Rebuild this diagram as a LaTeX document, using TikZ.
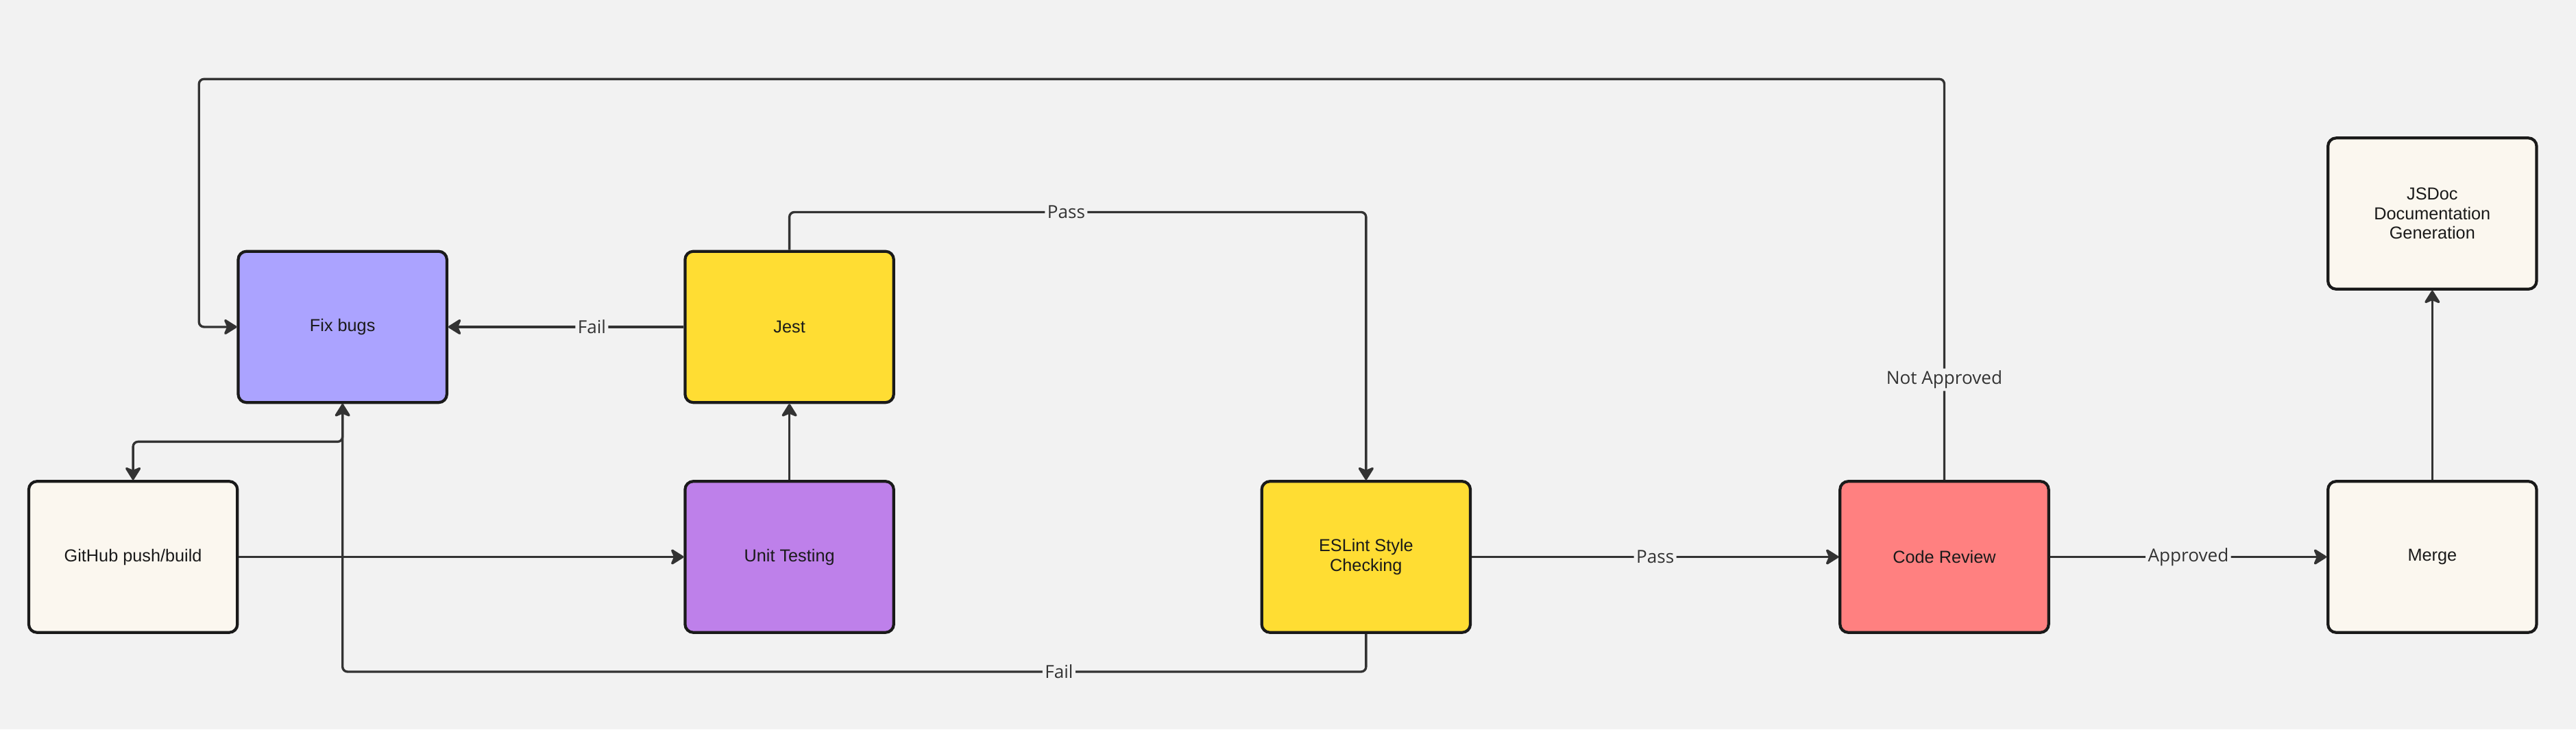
\documentclass[tikz,border=0pt]{standalone}
\usepackage{fontspec}
\setmainfont{Liberation Sans}
\newfontfamily\tagfont{Open Sans}
\usetikzlibrary{arrows.meta, positioning}
\definecolor{canvas}{HTML}{F2F2F2}
\definecolor{ink}{HTML}{1A1A1A}
\definecolor{wire}{HTML}{333333}
\definecolor{cream}{HTML}{FBF7EF}
\definecolor{lilac}{HTML}{ABA3FF}
\definecolor{violet}{HTML}{BE80EA}
\definecolor{sun}{HTML}{FFDD33}
\definecolor{salmon}{HTML}{FF8080}
\tikzset{
        x=0.05cm, y=-0.05cm, % one unit is one pixel of the small view, y grows downwards
        stage/.style={draw=ink, line width=2.5pt, rounded corners=0.25cm,
            minimum width=6.35cm, minimum height=4.6cm, align=center, text=ink,
            font=\fontsize{15}{17}\selectfont}, % every box of the pipeline
        flow/.style={-{Stealth[length=0.45cm, width=0.56cm, inset=0.12cm, round]},
            line width=2pt, draw=wire, rounded corners=0.15cm}, % the connectors
        tag/.style={fill=canvas, text=wire, inner sep=2pt,
            font=\tagfont\fontsize{15.5}{18}\selectfont}, % labels sitting on a connector
    }
\begin{document}
\begin{tikzpicture}
    \fill[canvas] (0,0) rectangle (1568,444);
    \useasboundingbox (0,0) rectangle (1568,444);

    \node[stage, fill=lilac]  (fix)    at (208.5,199) {Fix bugs};
    \node[stage, fill=sun]    (jest)   at (480.5,199) {Jest};
    \node[stage, fill=cream]  (github) at (81,339)    {GitHub push/build};
    \node[stage, fill=violet] (unit)   at (480.5,339) {Unit Testing};
    \node[stage, fill=sun]    (lint)   at (831.5,339) {ESLint Style\\Checking};
    \node[stage, fill=salmon] (review) at (1183.5,339) {Code Review};
    \node[stage, fill=cream]  (merge)  at (1480.5,339) {Merge};
    \node[stage, fill=cream]  (docs)   at (1480.5,130) {JSDoc\\Documentation\\Generation};

    \draw[flow] (github) -- (unit);
    \draw[flow] (unit) -- (jest);
    \draw[flow] (jest) -- node[tag, pos=0.39] {Fail} (fix);
    \draw[flow] (jest.north) -- ++(0,-23) -| node[tag, pos=0.24] {Pass} (lint.north);
    \draw[flow] (lint) -- node[tag] {Pass} (review);
    \draw[flow] (review) -- node[tag] {Approved} (merge);
    \draw[flow] (merge) -- (docs);
    \draw[flow] (review.north) -- node[tag, pos=0.25] {Not Approved} ++(0,-244)
        -| ([xshift=-1.15cm]fix.west) -- (fix.west);
    \draw[flow] (fix.south) -- ++(0,23) -| (github.north);
    \draw[flow] (lint.south) -- ++(0,23) -| node[tag, pos=0.15] {Fail} (fix.south);
\end{tikzpicture}
\end{document}
